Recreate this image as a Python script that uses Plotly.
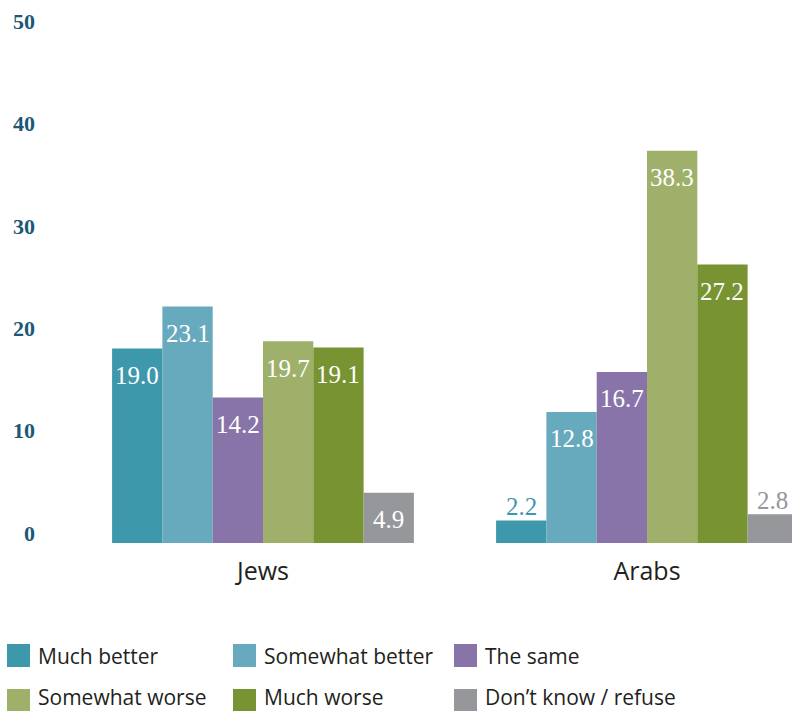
import plotly.graph_objects as go

categories = ["Jews", "Arabs"]
series_names = ["Much better", "Somewhat better", "The same",
                "Somewhat worse", "Much worse", "Don’t know / refuse"]
much_better = [19.0, 2.2]
somewhat_better = [23.1, 12.8]
the_same = [14.2, 16.7]
somewhat_worse = [19.7, 38.3]
much_worse = [19.1, 27.2]
dont_know = [4.9, 2.8]
y_ticks = [0, 10, 20, 30, 40, 50]

series_values = [much_better, somewhat_better, the_same,
                 somewhat_worse, much_worse, dont_know]
colors = ["#3e98ab", "#67aabd", "#8874a8", "#9fb06b", "#789331", "#96979b"]

# figure geometry (page margin removed in post_script)
W, H = 792, 711
L, R, T, B = 36, 0, 0, 168
PW, PH = W - L - R, H - T - B
BARGAP = 0.214
N = len(series_names)
group_w = 1 - BARGAP
bar_w = group_w / N
CAT0, CAT_STEP = 263, 384   # pixel centre of first group, pixels per category

fig = go.Figure()
for j, (name, vals, col) in enumerate(zip(series_names, series_values, colors)):
    fig.add_trace(go.Bar(
        x=[0, 1], y=vals, name=name,
        marker=dict(color=col, line=dict(width=0)),
        showlegend=False, hoverinfo="name+y",
    ))
    # value labels: inside near the top in white, or above small bars in bar colour
    for i, v in enumerate(vals):
        xc = i - group_w / 2 + bar_w * (j + 0.5)
        inside = v >= 3
        fig.add_annotation(
            x=xc, y=v, xref="x", yref="y", showarrow=False,
            text=f"{v:.1f}", xanchor="center", yanchor="middle",
            yshift=-27 if inside else 14,
            font=dict(family="Liberation Serif", size=25,
                      color="white" if inside else col),
        )

# manual legend (3 columns x 2 rows)
col_x = [7, 233, 454]
row_y = [644, 689]


def px_to_paper_x(px):
    return (px - L) / PW


def px_to_paper_y(py):
    return (H - B - py) / PH


for i, (name, col) in enumerate(zip(series_names, colors)):
    cx = col_x[i % 3]
    ry = row_y[i // 3]
    fig.add_shape(type="rect", xref="paper", yref="paper",
                  x0=px_to_paper_x(cx), x1=px_to_paper_x(cx + 23),
                  y0=px_to_paper_y(min(ry + 23, H)), y1=px_to_paper_y(ry),
                  line=dict(width=0), fillcolor=col, layer="above")
    ty = min(ry + 12, H - 14)
    fig.add_annotation(xref="paper", yref="paper",
                       x=px_to_paper_x(cx + 29), y=px_to_paper_y(ty),
                       xanchor="left", yanchor="middle", showarrow=False,
                       text=name,
                       font=dict(family="Open Sans", size=21, color="#231f20"))

fig.update_layout(
    width=W, height=H,
    margin=dict(l=L, r=R, t=T, b=B, autoexpand=False),
    paper_bgcolor="white", plot_bgcolor="white",
    barmode="group", bargap=BARGAP, bargroupgap=0,
    showlegend=False,
    xaxis=dict(tickmode="array", tickvals=[0, 1], ticktext=categories,
               range=[(L - CAT0) / CAT_STEP, (W - CAT0) / CAT_STEP],
               showgrid=False, zeroline=False, showline=False, ticks="",
               ticklabelstandoff=11,
               tickfont=dict(family="Open Sans", size=25, color="#231f20")),
    yaxis=dict(range=[0, PH / 10.24], tickvals=y_ticks,
               showgrid=False, zeroline=False, showline=False, ticks="",
               ticklabelshift=-10,
               tickfont=dict(family="Liberation Serif", size=22, color="#1b5877",
                             weight="bold")),
)

fig.write_html(
    "out.html",
    config={"displayModeBar": False},
    post_script="document.body.style.margin='0';"
                "document.documentElement.style.overflow='hidden';"
                "document.body.style.overflow='hidden';",
)
